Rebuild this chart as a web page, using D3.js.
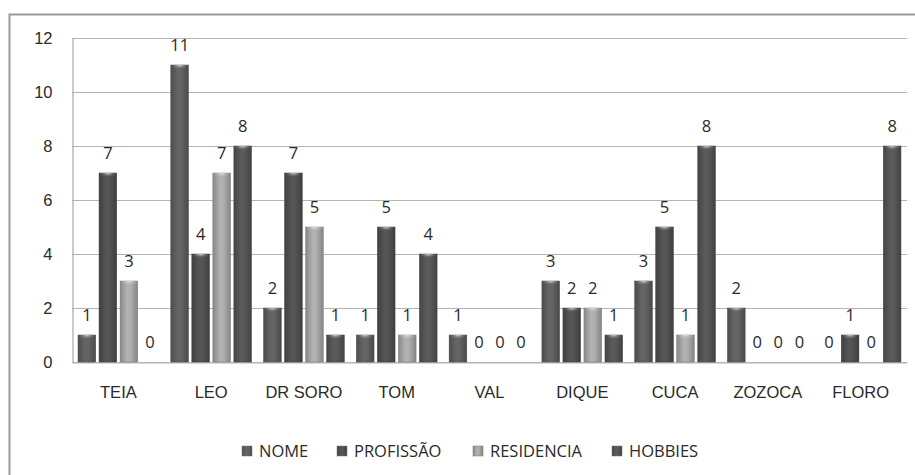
<!DOCTYPE html>
<html>
<head>
<meta charset="utf-8">
<script src="https://cdn.jsdelivr.net/npm/d3@7/dist/d3.min.js"></script>
<style>
  html, body { margin: 0; padding: 0; background: #fff; }
  svg { display: block; font-family: "Open Sans", "Liberation Sans", sans-serif; }
</style>
</head>
<body>
<svg id="chart" width="915" height="475"></svg>
<script>
// Categories (characters) and the four series counted for each
const categories = ["TEIA", "LEO", "DR SORO", "TOM", "VAL", "DIQUE", "CUCA", "ZOZOCA", "FLORO"];
const seriesNames = ["NOME", "PROFISSÃO", "RESIDENCIA", "HOBBIES"];
const nome       = [1, 11, 2, 1, 1, 3, 3, 2, 0];
const profissao  = [7, 4, 7, 5, 0, 2, 5, 0, 1];
const residencia = [3, 7, 5, 1, 0, 2, 1, 0, 0];
const hobbies    = [0, 8, 1, 4, 0, 1, 8, 0, 8];
const yTicks = [0, 2, 4, 6, 8, 10, 12];

const seriesValues = [nome, profissao, residencia, hobbies];
const seriesColors = ["#5c5c5c", "#4e4e4e", "#a3a3a3", "#535353"];

const svg = d3.select("#chart");
const plotLeft = 72, plotTop = 38, plotRight = 907, plotBottom = 362;
const fontSize = 16.5;
const textColor = "#2a2a2a";

// Outer frame (left and top edges visible)
svg.append("rect")
  .attr("x", 9.5).attr("y", 14.5)
  .attr("width", 1000).attr("height", 1000)
  .attr("fill", "none").attr("stroke", "#9a9a9a").attr("stroke-width", 2);

const x0 = d3.scaleBand().domain(categories).range([plotLeft, plotRight]).paddingInner(0.13).paddingOuter(0.065);
const x1 = d3.scaleBand().domain(seriesNames).range([0, x0.bandwidth()]).paddingInner(0.16);
const y = d3.scaleLinear().domain([0, 12]).range([plotBottom, plotTop]);

// Gradients giving each bar a rounded, shaded look
const defs = svg.append("defs");
seriesColors.forEach((c, i) => {
  const g = defs.append("linearGradient").attr("id", "grad" + i).attr("x1", "0").attr("x2", "1").attr("y1", "0").attr("y2", "0");
  const base = d3.color(c);
  g.append("stop").attr("offset", "0%").attr("stop-color", base.darker(0.5));
  g.append("stop").attr("offset", "40%").attr("stop-color", base.brighter(0.25));
  g.append("stop").attr("offset", "60%").attr("stop-color", base.brighter(0.2));
  g.append("stop").attr("offset", "100%").attr("stop-color", base.darker(0.6));
  const cap = defs.append("radialGradient").attr("id", "cap" + i).attr("cx", "50%").attr("cy", "0%").attr("r", "60%");
  cap.append("stop").attr("offset", "0%").attr("stop-color", "#e8e8e8").attr("stop-opacity", 0.9);
  cap.append("stop").attr("offset", "100%").attr("stop-color", base.brighter(0.3)).attr("stop-opacity", 0);
});

// Gridlines
svg.append("g").selectAll("line").data(yTicks).join("line")
  .attr("x1", plotLeft).attr("x2", plotRight)
  .attr("y1", d => Math.round(y(d)) + 0.5).attr("y2", d => Math.round(y(d)) + 0.5)
  .attr("stroke", "#b4b4b4").attr("stroke-width", 1.2);

// Y axis
const yAxis = svg.append("g").attr("transform", `translate(${plotLeft + 0.5},0)`)
  .call(d3.axisLeft(y).tickValues(yTicks).tickSize(0).tickPadding(20));
yAxis.select(".domain").attr("stroke", "#a8a8a8").attr("stroke-width", 1.2);
yAxis.selectAll("text").attr("font-size", fontSize).attr("fill", textColor);

// X axis labels
const xAxis = svg.append("g").attr("transform", `translate(0,${plotBottom + 0.5})`)
  .call(d3.axisBottom(x0).tickSize(0).tickPadding(24));
xAxis.select(".domain").attr("stroke", "#b4b4b4");
xAxis.selectAll("text").attr("font-size", fontSize).attr("fill", textColor);

// Bars and value labels
const groups = svg.append("g").selectAll("g").data(categories).join("g")
  .attr("transform", d => `translate(${x0(d)},0)`);

groups.each(function(cat, ci) {
  const g = d3.select(this);
  seriesNames.forEach((s, si) => {
    const v = seriesValues[si][ci];
    const bx = x1(s), bw = x1.bandwidth();
    if (v > 0) {
      g.append("rect").attr("x", bx).attr("y", y(v)).attr("width", bw).attr("height", y(0) - y(v))
        .attr("fill", `url(#grad${si})`).attr("stroke", d3.color(seriesColors[si]).darker(0.8)).attr("stroke-width", 0.5);
      g.append("rect").attr("x", bx + 1).attr("y", y(v)).attr("width", bw - 2).attr("height", 7)
        .attr("fill", `url(#cap${si})`);
    }
    g.append("text").attr("x", bx + bw / 2).attr("y", y(v) - 14)
      .attr("text-anchor", "middle").attr("font-size", fontSize).attr("fill", textColor)
      .text(v);
  });
});

// Legend
const legendX = [242, 337, 473, 612];
const legend = svg.append("g");
seriesNames.forEach((s, i) => {
  legend.append("rect").attr("x", legendX[i]).attr("y", 446).attr("width", 10).attr("height", 10)
    .attr("fill", `url(#grad${i})`).attr("stroke", "#777").attr("stroke-width", 0.5);
  legend.append("text").attr("x", legendX[i] + 17).attr("y", 457)
    .attr("font-size", fontSize).attr("fill", textColor).text(s);
});
</script>
</body>
</html>
